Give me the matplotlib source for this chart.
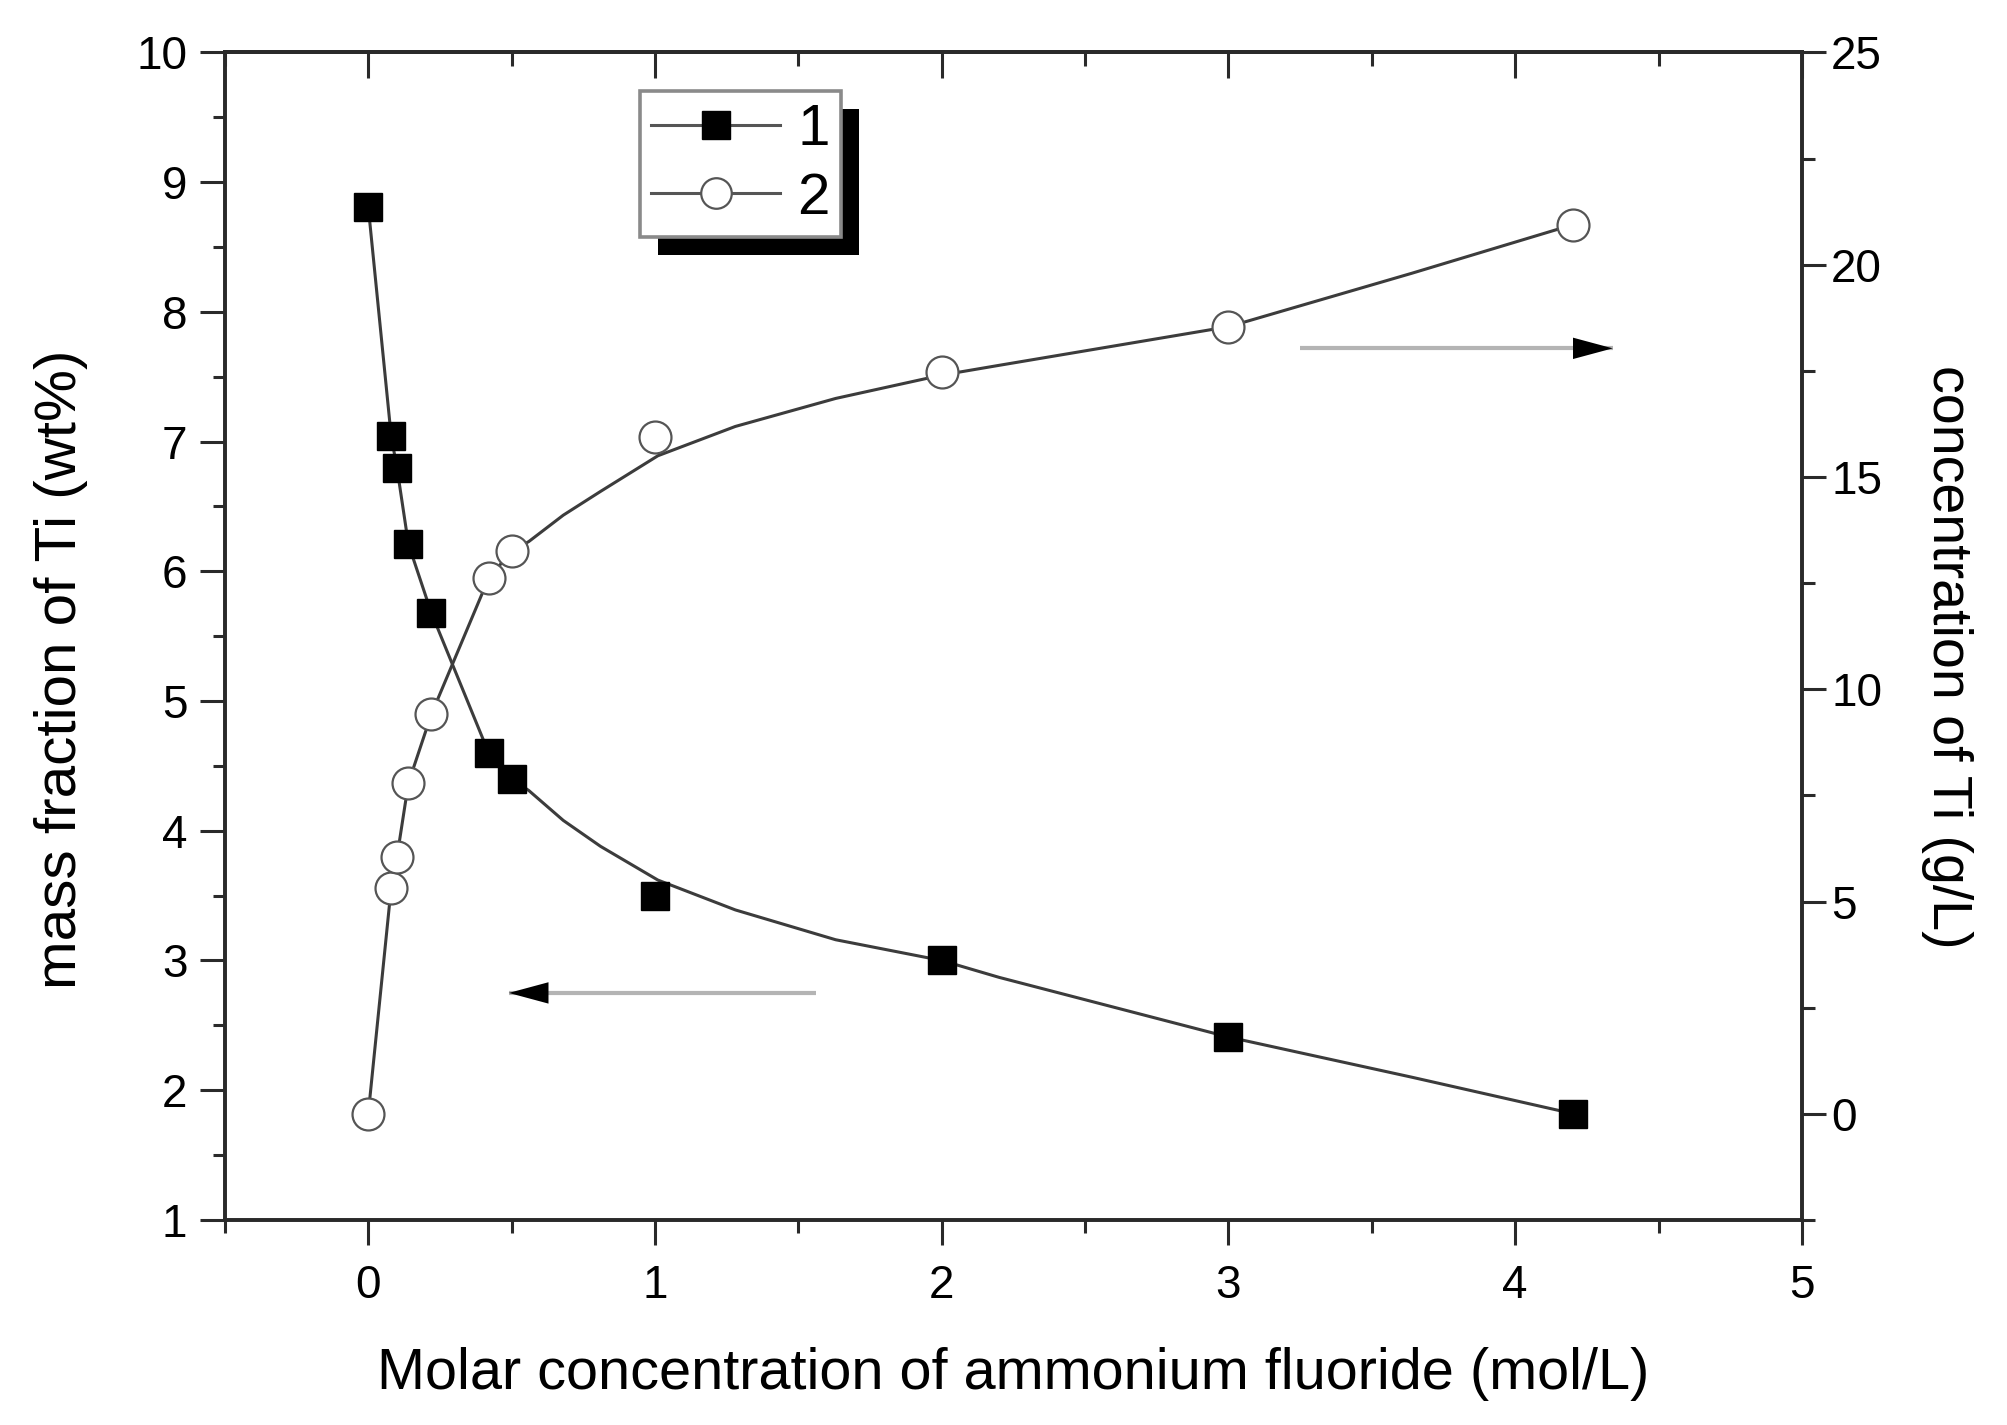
import numpy as np
import matplotlib
matplotlib.use("Agg")
import matplotlib.pyplot as plt
from matplotlib.lines import Line2D
from matplotlib.patches import Rectangle

plt.rcParams['font.family'] = ['Liberation Sans', 'DejaVu Sans']

# measured points
nh4f = [0, 0.08, 0.10, 0.14, 0.22, 0.42, 0.50, 1.0, 2.0, 3.0, 4.2]
ti_mass = [8.81, 7.04, 6.80, 6.21, 5.68, 4.60, 4.40, 3.50, 3.00, 2.41, 1.82]
ti_conc = [0, 5.33, 6.04, 7.79, 9.41, 12.62, 13.25, 15.95, 17.48, 18.54, 20.94]

# smoothed guide curves
fit_x = [0, 0.08, 0.10, 0.14, 0.22, 0.42, 0.50, 0.56, 0.68, 0.81, 1.01, 1.28, 1.63, 2.0, 2.2, 3.0, 3.64, 4.2]
fit_mass = [8.81, 7.04, 6.80, 6.21, 5.68, 4.60, 4.40, 4.31, 4.08, 3.88, 3.62, 3.39, 3.16, 3.00, 2.87, 2.41, 2.10, 1.82]
fit_conc = [0, 5.33, 6.04, 7.79, 9.41, 12.62, 13.25, 13.48, 14.10, 14.66, 15.50, 16.19, 16.85, 17.40, 17.63, 18.54, 19.80, 20.94]

# arrows pointing to the axis each curve belongs to
arrow_left = [(1.56, 2.75), (0.49, 2.75)]     # left axis units
arrow_right = [(3.25, 18.03), (4.34, 18.03)]  # right axis units

line_c = '#3c3c3c'
spine_c = '#2a2a2a'

fig = plt.figure(figsize=(20.08, 14.25), dpi=100)
ax = fig.add_axes([0.112, 0.1439, 0.7854, 0.8193])
ax2 = ax.twinx()

ax.plot(fit_x, fit_mass, color=line_c, lw=2.2, zorder=2)
ax.plot(nh4f, ti_mass, ls='none', marker='s', ms=20, mfc='black', mec='black', zorder=3)
ax2.plot(fit_x, fit_conc, color=line_c, lw=2.2, zorder=2)
ax2.plot(nh4f, ti_conc, ls='none', marker='o', ms=23, mfc='white', mec='#555555', mew=1.6, zorder=3)

# arrows: light grey shaft, black head
def draw_arrow(a, p0, p1):
    xs = [p0[0], p1[0]]
    ys = [p0[1], p1[1]]
    a.plot(xs, ys, color='#b4b4b4', lw=3, solid_capstyle='butt', zorder=1)
    d = 0.11 if p1[0] > p0[0] else -0.11
    a.annotate('', xy=p1, xytext=(p1[0] - d, p1[1]),
               arrowprops=dict(arrowstyle='-|>,head_length=1.3,head_width=0.35',
                               color='black', lw=0, mutation_scale=22, shrinkA=0, shrinkB=0))

draw_arrow(ax, *arrow_left)
draw_arrow(ax2, *arrow_right)

ax.set_xlim(-0.5, 5)
ax.set_ylim(1, 10)
ax2.set_ylim(-2.5, 25)

ax.set_xticks(range(0, 6))
ax.set_xticks(np.arange(-0.5, 5.01, 0.5), minor=True)
ax.set_yticks(range(1, 11))
ax.set_yticks(np.arange(1.5, 10, 0.5), minor=True)
ax2.set_yticks(range(0, 26, 5))
ax2.set_yticks(np.arange(-2.5, 25.1, 2.5), minor=True)

for a in (ax, ax2):
    for s in a.spines.values():
        s.set_color(spine_c)
        s.set_linewidth(2.6)

ax.tick_params(axis='both', which='major', direction='out', length=18, width=2.2,
               color=spine_c, labelsize=33, pad=9)
ax.tick_params(axis='both', which='minor', direction='out', length=9, width=2.2, color=spine_c)
ax.tick_params(axis='x', which='major', pad=14)
ax2.tick_params(axis='y', which='major', direction='out', length=17, width=2.2,
                color=spine_c, labelsize=33, pad=4)
ax2.tick_params(axis='y', which='minor', direction='out', length=9, width=2.2, color=spine_c)

top = ax.secondary_xaxis('top')
top.set_xticks(range(0, 6))
top.set_xticks(np.arange(-0.5, 5.01, 0.5), minor=True)
top.tick_params(which='major', direction='in', length=19, width=2.2, color=spine_c, labeltop=False)
top.tick_params(which='minor', direction='in', length=10, width=2.2, color=spine_c)
top.spines['top'].set_color(spine_c)
top.spines['top'].set_linewidth(2.6)

ax.set_xlabel('Molar concentration of ammonium fluoride (mol/L)', fontsize=41.5, va='center')
ax.xaxis.set_label_coords(0.5, -0.132)
ax.set_ylabel('mass fraction of Ti (wt%)', fontsize=42, va='center')
ax.yaxis.set_label_coords(-0.104, 0.472)
ax2.set_ylabel('concentration of Ti (g/L)', fontsize=40, rotation=270, va='center')
ax2.yaxis.set_label_coords(1.092, 0.482)

handles = [
    Line2D([], [], color='#555555', lw=2.2, marker='s', ms=20, mfc='black', mec='black'),
    Line2D([], [], color='#555555', lw=2.2, marker='o', ms=22, mfc='white', mec='#555555', mew=1.6),
]
leg = ax2.legend(handles, ['1', '2'], loc='upper left', bbox_to_anchor=(0.263, 0.9666),
                 borderaxespad=0, fontsize=42, handlelength=2.2, handletextpad=0.3,
                 labelspacing=0.25, borderpad=0.2, fancybox=False, framealpha=1,
                 edgecolor='#8a8a8a')
leg.get_frame().set_linewidth(2.6)
leg.set_zorder(10)

# offset black shadow behind the legend box
fig.canvas.draw()
bb = leg.get_window_extent()
shadow = Rectangle((bb.x0 + 18, bb.y0 - 18), bb.width, bb.height, transform=None,
                   facecolor='black', edgecolor='none', zorder=9)
ax2.add_artist(shadow)

fig.savefig('out.png', dpi=100)
